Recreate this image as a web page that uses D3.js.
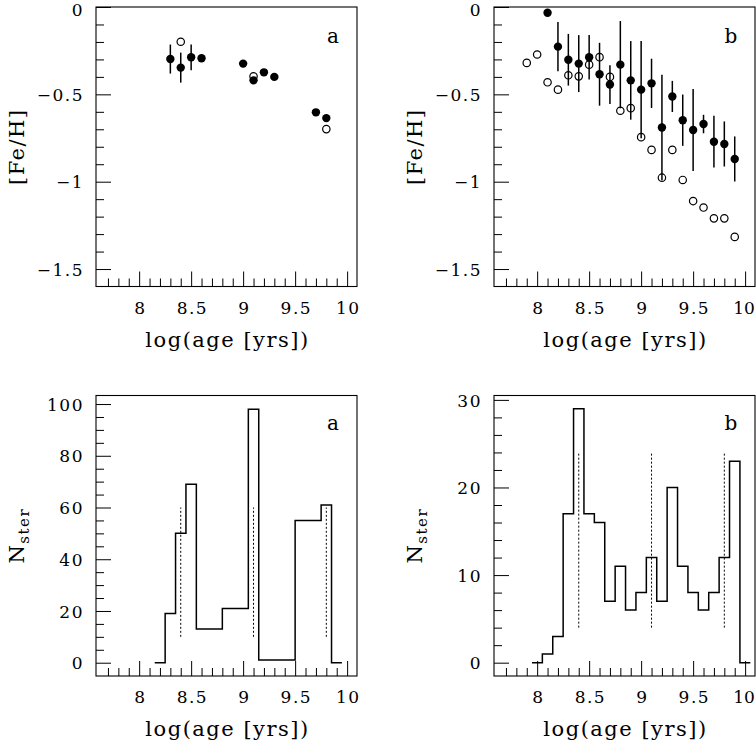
<!DOCTYPE html>
<html>
<head>
<meta charset="utf-8">
<script src="https://cdn.jsdelivr.net/npm/d3@7/dist/d3.min.js"></script>
<style>
  html, body { margin: 0; padding: 0; background: #fff; }
  svg { display: block; }
  .tick text { font-family: "DejaVu Serif", serif; font-size: 17px; letter-spacing: 1.5px; fill: #000; }
  .title { font-family: "DejaVu Serif", serif; font-size: 21px; letter-spacing: 1.5px; fill: #000; }
  .letter { font-family: "DejaVu Serif", serif; font-size: 20px; fill: #000; }
</style>
</head>
<body>
<script>
// ---------------- data ----------------
// panel a (top): [Fe/H] vs log(age)
const ageA      = [8.3, 8.4, 8.5, 8.6, 9.0, 9.1, 9.2, 9.3, 9.7, 9.8];
const fehA      = [-0.298, -0.347, -0.288, -0.293, -0.324, -0.42, -0.374, -0.40, -0.603, -0.636];
const errA      = [0.083, 0.086, 0.074, 0, 0, 0, 0, 0, 0, 0];
const openAgeA  = [8.4, 9.1, 9.8];
const openFehA  = [-0.199, -0.397, -0.699];

// panel b (top)
const ageB      = [8.1, 8.2, 8.3, 8.4, 8.5, 8.6, 8.7, 8.8, 8.9, 9.0, 9.1, 9.2, 9.3, 9.4, 9.5, 9.6, 9.7, 9.8, 9.9];
const fehB      = [-0.033, -0.227, -0.302, -0.324, -0.288, -0.385, -0.444, -0.33, -0.42, -0.473, -0.437, -0.69, -0.512, -0.648, -0.704, -0.67, -0.771, -0.784, -0.87];
const errB      = [0, 0.141, 0.148, 0.163, 0.127, 0.18, 0.111, 0.25, 0.225, 0.278, 0.141, 0.302, 0.089, 0.147, 0.235, 0.053, 0.148, 0.129, 0.129];
const openAgeB  = [7.9, 8.0, 8.1, 8.2, 8.3, 8.4, 8.5, 8.6, 8.7, 8.8, 8.9, 9.0, 9.1, 9.2, 9.3, 9.4, 9.5, 9.6, 9.7, 9.8, 9.9];
const openFehB  = [-0.32, -0.272, -0.431, -0.473, -0.391, -0.397, -0.33, -0.287, -0.40, -0.594, -0.579, -0.745, -0.818, -0.977, -0.818, -0.99, -1.111, -1.148, -1.21, -1.21, -1.316];

// histograms (bottom)
const binEdgesA = [8.15, 8.25, 8.35, 8.45, 8.55, 8.8, 9.05, 9.15, 9.5, 9.75, 9.85, 9.95];
const countsA   = [0, 19, 50, 69, 13, 21, 98, 1, 55, 61, 0];
const binEdgesB = [7.95, 8.05, 8.15, 8.25, 8.35, 8.45, 8.55, 8.65, 8.75, 8.85, 8.95, 9.05, 9.15, 9.25, 9.35, 9.45, 9.55, 9.65, 9.75, 9.85, 9.95, 10.05];
const countsB   = [0, 1, 3, 17, 29, 17, 16, 7, 11, 6, 8, 12, 7, 20, 11, 8, 6, 8, 12, 23, 0];
const markAges  = [8.4, 9.1, 9.8];
const markRangeA = [10, 60];
const markRangeB = [4, 24];

// ticks
const xMajor   = [8, 8.5, 9, 9.5, 10];
const xMinor   = [7.7, 7.8, 7.9, 8.1, 8.2, 8.3, 8.4, 8.6, 8.7, 8.8, 8.9, 9.1, 9.2, 9.3, 9.4, 9.6, 9.7, 9.8, 9.9];
const fehMajor = [0, -0.5, -1, -1.5];
const fehMinor = [-0.1, -0.2, -0.3, -0.4, -0.6, -0.7, -0.8, -0.9, -1.1, -1.2, -1.3, -1.4];
const nMajorA  = [0, 20, 40, 60, 80, 100];
const nMinorA  = [5, 10, 15, 25, 30, 35, 45, 50, 55, 65, 70, 75, 85, 90, 95];
const nMajorB  = [0, 10, 20, 30];
const nMinorB  = [2, 4, 6, 8, 12, 14, 16, 18, 22, 24, 26, 28];

// ---------------- layout ----------------
const W = 756, H = 746;
const svg = d3.select("body").append("svg").attr("width", W).attr("height", H);

const xDomain = [7.585, 10.095];
const colL = [96, 357], colR = [494, 755];
const rowT = [286.5, 7], rowB = [676, 395.5];

function panel(cols, rows, yDomain, yMajor, yMinor, letter, ytitle) {
  const x = d3.scaleLinear().domain(xDomain).range(cols);
  const y = d3.scaleLinear().domain(yDomain).range(rows);
  const g = svg.append("g");
  g.append("rect").attr("x", cols[0]).attr("y", rows[1])
    .attr("width", cols[1] - cols[0]).attr("height", rows[0] - rows[1])
    .attr("fill", "none").attr("stroke", "#000").attr("stroke-width", 1.1);
  g.append("g").attr("transform", `translate(0,${rows[0]})`)
    .call(d3.axisBottom(x).tickValues(xMinor).tickSize(-8).tickFormat(""));
  const xa2 = g.append("g").attr("transform", `translate(0,${rows[0]})`)
    .call(d3.axisBottom(x).tickValues(xMajor).tickSize(-15).tickFormat(d3.format("~g")));
  xa2.selectAll("text").attr("y", 27).attr("dy", null).attr("dx", "0.75px");
  // keep the right-edge label inside the picture
  xa2.selectAll(".tick").filter(d => x(d) > W - 20).select("text")
    .style("letter-spacing", "0px").attr("dx", "-1.5px");
  g.append("g").attr("transform", `translate(${cols[0]},0)`)
    .call(d3.axisLeft(y).tickValues(yMinor).tickSize(-8).tickFormat(""));
  const ya2 = g.append("g").attr("transform", `translate(${cols[0]},0)`)
    .call(d3.axisLeft(y).tickValues(yMajor).tickSize(-15).tickFormat(d3.format("~g")));
  ya2.selectAll("text").attr("x", -12).attr("dy", "0.36em");
  ya2.selectAll(".tick").filter(d => y(d) < 12).select("text").attr("dy", "0.52em");
  g.selectAll(".domain").remove();
  g.selectAll(".tick line").attr("stroke", "#000").attr("stroke-width", 1);
  g.selectAll(".tick text").attr("font-family", null).attr("font-size", null);
  g.append("text").attr("class", "letter")
    .attr("x", cols[1] - 24).attr("y", rows[1] + (rows[1] < 100 ? 36 : 34))
    .attr("text-anchor", "middle").text(letter);
  g.append("text").attr("class", "title")
    .attr("x", (cols[0] + cols[1]) / 2 + 1).attr("y", rows[0] + 60)
    .attr("text-anchor", "middle").text("log(age [yrs])");
  const yt = g.append("text").attr("class", "title")
    .attr("transform", `translate(${cols[0] - 72},${(rows[0] + rows[1]) / 2}) rotate(-90)`)
    .attr("text-anchor", "middle");
  if (ytitle === "feh") {
    yt.text("[Fe/H]");
  } else {
    yt.append("tspan").text("N");
    yt.append("tspan").attr("dy", 5).attr("font-size", "15px").text("ster");
  }
  return { g, x, y };
}

function scatter(p, ages, fehs, errs, openAges, openFehs) {
  const { g, x, y } = p;
  g.append("g").selectAll("line").data(ages.map((a, i) => [a, fehs[i], errs[i]]).filter(d => d[2] > 0))
    .join("line")
    .attr("x1", d => x(d[0])).attr("x2", d => x(d[0]))
    .attr("y1", d => y(d[1] - d[2])).attr("y2", d => y(d[1] + d[2]))
    .attr("stroke", "#000").attr("stroke-width", 1.5);
  g.append("g").selectAll("circle").data(ages.map((a, i) => [a, fehs[i]]))
    .join("circle")
    .attr("cx", d => x(d[0])).attr("cy", d => y(d[1])).attr("r", 4.2)
    .attr("fill", "#000");
  g.append("g").selectAll("circle").data(openAges.map((a, i) => [a, openFehs[i]]))
    .join("circle")
    .attr("cx", d => x(d[0])).attr("cy", d => y(d[1])).attr("r", 3.7)
    .attr("fill", "none").attr("stroke", "#000").attr("stroke-width", 1.2);
}

function histogram(p, edges, counts, markRange) {
  const { g, x, y } = p;
  const pts = counts.map((c, i) => [edges[i], c]);
  pts.push([edges[edges.length - 1], counts[counts.length - 1]]);
  g.append("path").datum(pts)
    .attr("d", d3.line().x(d => x(d[0])).y(d => y(d[1])).curve(d3.curveStepAfter))
    .attr("fill", "none").attr("stroke", "#000").attr("stroke-width", 1.5);
  g.append("g").selectAll("line").data(markAges).join("line")
    .attr("x1", d => x(d)).attr("x2", d => x(d))
    .attr("y1", y(markRange[0])).attr("y2", y(markRange[1]))
    .attr("stroke", "#000").attr("stroke-width", 1).attr("stroke-dasharray", "2,2");
}

const pTL = panel(colL, rowT, [-1.6, 0], fehMajor, fehMinor, "a", "feh");
const pTR = panel(colR, rowT, [-1.6, 0], fehMajor, fehMinor, "b", "feh");
const pBL = panel(colL, rowB, [-5.14, 103.3], nMajorA, nMinorA, "a", "n");
const pBR = panel(colR, rowB, [-1.52, 30.5], nMajorB, nMinorB, "b", "n");

scatter(pTL, ageA, fehA, errA, openAgeA, openFehA);
scatter(pTR, ageB, fehB, errB, openAgeB, openFehB);
histogram(pBL, binEdgesA, countsA, markRangeA);
histogram(pBR, binEdgesB, countsB, markRangeB);
</script>
</body>
</html>
